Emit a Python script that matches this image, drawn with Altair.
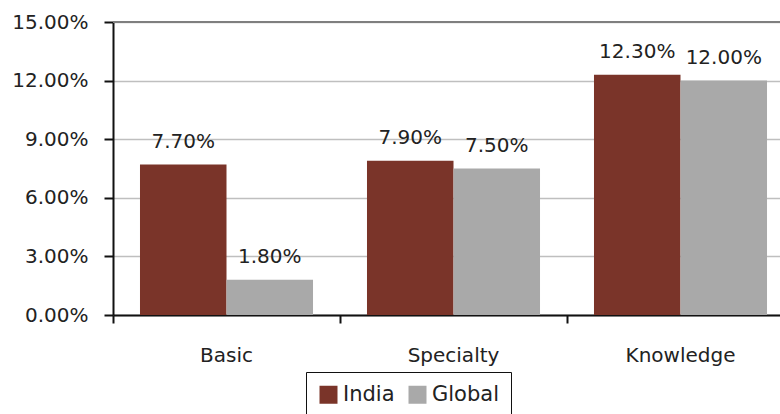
import altair as alt
import pandas as pd

categories = ["Basic", "Specialty", "Knowledge"]
series = ["India", "Global"]
india = [0.077, 0.079, 0.123]
global_vals = [0.018, 0.075, 0.120]
y_ticks = [0.0, 0.03, 0.06, 0.09, 0.12, 0.15]
colors = ["#7A3429", "#A9A9A9"]

rows = []
for c, a, b in zip(categories, india, global_vals):
    rows.append({"category": c, "series": "India", "value": a})
    rows.append({"category": c, "series": "Global", "value": b})
df = pd.DataFrame(rows)

FONT = "DejaVu Sans"

x_scale = alt.Scale(range=[0, 681], paddingInner=0, paddingOuter=0)
y_scale = alt.Scale(domain=[0, 0.15], nice=False, zero=True)

x_enc = alt.X(
    "category:N",
    sort=categories,
    scale=x_scale,
    axis=alt.Axis(
        title=None,
        bandPosition=0,
        labelAngle=0,
        labelFontSize=20,
        labelFont=FONT,
        labelColor="#222222",
        labelPadding=22,
        tickSize=8,
        tickWidth=2,
        tickColor="#111111",
        domainColor="#111111",
        domainWidth=2,
        grid=False,
    ),
)
xoff = alt.XOffset(
    "series:N",
    sort=series,
    scale=alt.Scale(paddingOuter=0.312, paddingInner=0),
)
y_enc = alt.Y(
    "value:Q",
    scale=y_scale,
    axis=alt.Axis(
        title=None,
        values=y_ticks,
        format=".2%",
        labelFontSize=20,
        labelFont=FONT,
        labelColor="#222222",
        labelPadding=16,
        tickSize=9,
        tickWidth=2,
        tickColor="#111111",
        domainColor="#111111",
        domainWidth=2,
        grid=True,
        gridColor="#BFBFBF",
        gridWidth=1.5,
    ),
)

top_rule = alt.Chart(df).mark_rule(color="#7F7F7F", strokeWidth=2).encode(
    y=alt.datum(y_ticks[-1], scale=y_scale)
)

bars = alt.Chart(df).mark_bar(opacity=1).encode(
    x=x_enc,
    xOffset=xoff,
    y=y_enc,
    color=alt.Color(
        "series:N",
        sort=series,
        scale=alt.Scale(domain=series, range=colors),
        legend=alt.Legend(
            title=None,
            orient="none",
            legendX=193,
            legendY=350,
            direction="horizontal",
            strokeColor="#111111",
            padding=12,
            symbolType="square",
            symbolSize=324,
            symbolStrokeWidth=0,
            symbolOpacity=1,
            labelFontSize=21,
            labelFont=FONT,
            labelColor="#222222",
            labelOffset=4,
            columnPadding=12,
        ),
    ),
)

labels = alt.Chart(df).mark_text(
    baseline="alphabetic", dy=-17, fontSize=20, font=FONT, color="#222222"
).encode(
    x=alt.X("category:N", sort=categories, scale=x_scale),
    xOffset=alt.XOffset("series:N", sort=series),
    y=alt.Y("value:Q", scale=y_scale),
    text=alt.Text("value:Q", format=".2%"),
)

chart = (
    alt.layer(top_rule, bars, labels)
    .properties(
        width=667,
        height=293,
        autosize=alt.AutoSizeParams(type="none"),
        padding={"left": 113, "top": 22, "right": 0, "bottom": 99},
        background="white",
    )
    .configure_view(stroke=None)
)

chart.save("out.html", embed_options={"renderer": "svg", "actions": False})
